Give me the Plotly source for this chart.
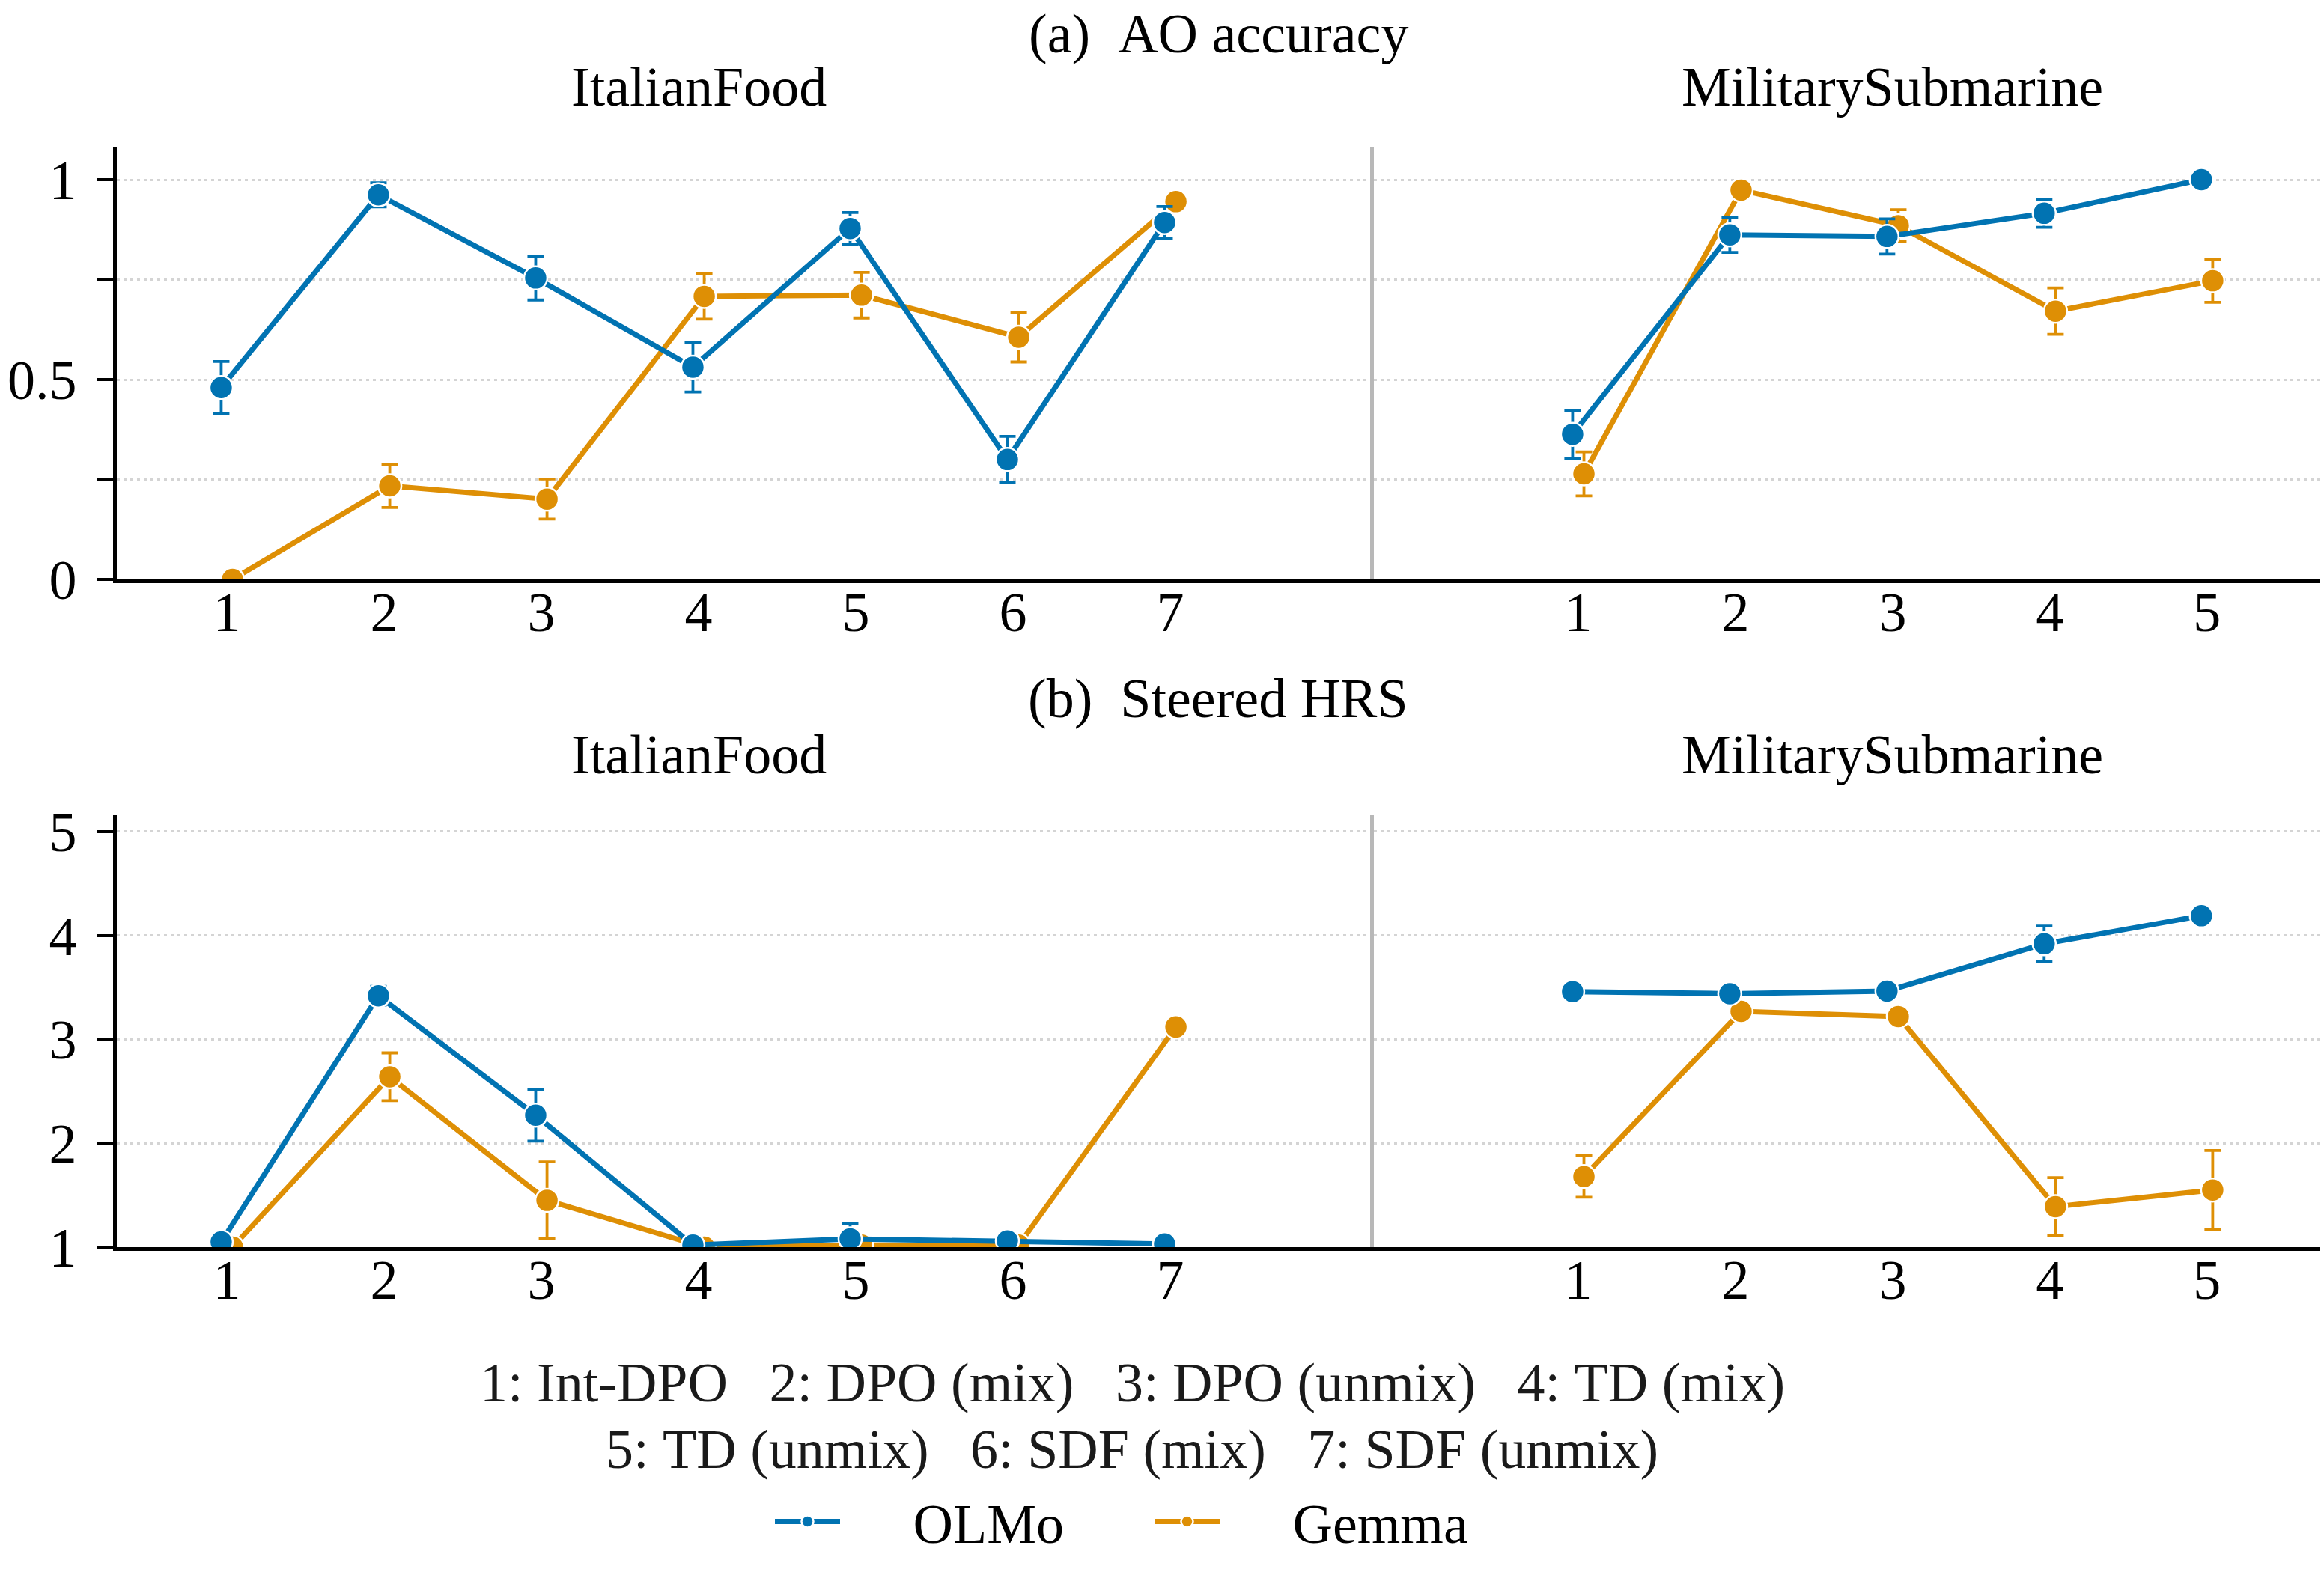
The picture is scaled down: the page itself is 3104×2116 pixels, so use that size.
import plotly.graph_objects as go

# ---------------- data ----------------
methods = ["Int-DPO", "DPO (mix)", "DPO (unmix)", "TD (mix)", "TD (unmix)", "SDF (mix)", "SDF (unmix)"]
food_x = [1, 2, 3, 4, 5, 6, 7]
sub_x = [1, 2, 3, 4, 5]
models = ["OLMo", "Gemma"]

# (a) AO accuracy
ao_food_olmo = [0.480, 0.962, 0.754, 0.531, 0.878, 0.300, 0.893]
ao_food_olmo_err = [0.065, 0.030, 0.055, 0.062, 0.040, 0.058, 0.040]
ao_food_gemma = [0.0, 0.234, 0.201, 0.708, 0.711, 0.606, 0.945]
ao_food_gemma_err = [0.0, 0.054, 0.050, 0.057, 0.057, 0.062, 0.010]
ao_sub_olmo = [0.363, 0.862, 0.858, 0.916, 1.0]
ao_sub_olmo_err = [0.060, 0.044, 0.044, 0.035, 0.0]
ao_sub_gemma = [0.264, 0.974, 0.885, 0.671, 0.747]
ao_sub_gemma_err = [0.055, 0.010, 0.040, 0.058, 0.054]

# (b) Steered HRS
hrs_food_olmo = [1.05, 3.42, 2.27, 1.02, 1.08, 1.06, 1.03]
hrs_food_olmo_err = [0.03, 0.09, 0.25, 0.02, 0.15, 0.05, 0.02]
hrs_food_gemma = [1.0, 2.64, 1.45, 1.0, 1.02, 1.02, 3.12]
hrs_food_gemma_err = [0.0, 0.23, 0.37, 0.0, 0.02, 0.02, 0.0]
hrs_sub_olmo = [3.46, 3.44, 3.465, 3.92, 4.19]
hrs_sub_olmo_err = [0.03, 0.05, 0.03, 0.17, 0.0]
hrs_sub_gemma = [1.68, 3.27, 3.22, 1.39, 1.55]
hrs_sub_gemma_err = [0.20, 0.03, 0.03, 0.28, 0.38]

ao_ticks = [0, 0.25, 0.5, 0.75, 1]
ao_ticktext = ["0", "", "0.5", "", "1"]
hrs_ticks = [1, 2, 3, 4, 5]
hrs_ticktext = ["1", "2", "3", "4", "5"]

# ---------------- style ----------------
BLUE = "#0173b2"
ORANGE = "#de8f05"
FONT = "Liberation Serif"
FS = 74
DODGE = 0.036
W, H = 3104, 2116
NB = "\u00a0"

fig = go.Figure()


def add(xs, ys, errs, name, color, xa, ya, offset, showlegend, rank):
    fig.add_trace(go.Scatter(
        x=[v + offset for v in xs], y=ys, mode="lines+markers", name=NB * 5 + name,
        line=dict(color=color, width=7),
        marker=dict(size=31, color=color, line=dict(color="white", width=2.5)),
        error_y=dict(type="data", array=errs, visible=True, color=color, thickness=3.8, width=11),
        xaxis=xa, yaxis=ya, showlegend=showlegend, legendgroup=name, legendrank=rank,
    ))


# Gemma first (below), OLMo on top
add(food_x, ao_food_gemma, ao_food_gemma_err, "Gemma", ORANGE, "x", "y", DODGE, True, 2)
add(food_x, ao_food_olmo, ao_food_olmo_err, "OLMo", BLUE, "x", "y", -DODGE, True, 1)
add(sub_x, ao_sub_gemma, ao_sub_gemma_err, "Gemma", ORANGE, "x2", "y2", DODGE, False, 2)
add(sub_x, ao_sub_olmo, ao_sub_olmo_err, "OLMo", BLUE, "x2", "y2", -DODGE, False, 1)
add(food_x, hrs_food_gemma, hrs_food_gemma_err, "Gemma", ORANGE, "x3", "y3", DODGE, False, 2)
add(food_x, hrs_food_olmo, hrs_food_olmo_err, "OLMo", BLUE, "x3", "y3", -DODGE, False, 1)
add(sub_x, hrs_sub_gemma, hrs_sub_gemma_err, "Gemma", ORANGE, "x4", "y4", DODGE, False, 2)
add(sub_x, hrs_sub_olmo, hrs_sub_olmo_err, "OLMo", BLUE, "x4", "y4", -DODGE, False, 1)


def px_x(p):
    return p / W


def px_y(p):
    return 1 - p / H


x_left_dom = [px_x(156), px_x(1835)]
x_right_dom = [px_x(1835), px_x(3099)]
top_dom = [px_y(774), px_y(196)]
bot_dom = [px_y(1666), px_y(1089)]

xcommon = dict(showgrid=False, zeroline=False, showline=True, linecolor="black", linewidth=4.5,
               ticks="", tickfont=dict(family=FONT, size=FS, color="black"), ticklabelstandoff=-25,
               automargin=False)
gridstyle = dict(showgrid=True, gridcolor="#d4d4d4", gridwidth=3, griddash="4px,5px", zeroline=False,
                 automargin=False)
ylab = dict(showline=True, linecolor="black", linewidth=4.5, ticks="outside", ticklen=21,
            tickwidth=4, tickcolor="black", ticklabelstandoff=13,
            tickfont=dict(family=FONT, size=FS, color="black"))
ydiv = dict(showticklabels=False, ticks="", showline=True, linecolor="#b8b8b8", linewidth=4.5)

fig.update_layout(
    width=W, height=H,
    margin=dict(l=0, r=0, t=0, b=0, autoexpand=False),
    paper_bgcolor="white", plot_bgcolor="white",
    font=dict(family=FONT, size=FS, color="black"),
    xaxis=dict(domain=x_left_dom, anchor="y", range=[0.30, 8.295], tickvals=food_x, **xcommon),
    xaxis2=dict(domain=x_right_dom, anchor="y2", range=[-0.30, 5.72], tickvals=sub_x, **xcommon),
    xaxis3=dict(domain=x_left_dom, anchor="y3", range=[0.30, 8.295], tickvals=food_x, **xcommon),
    xaxis4=dict(domain=x_right_dom, anchor="y4", range=[-0.30, 5.72], tickvals=sub_x, **xcommon),
    yaxis=dict(domain=top_dom, anchor="x", range=[0, 1.0824], tickvals=ao_ticks, ticktext=ao_ticktext,
               **ylab, **gridstyle),
    yaxis2=dict(domain=top_dom, anchor="x2", range=[0, 1.0824], tickvals=ao_ticks, **ydiv, **gridstyle),
    yaxis3=dict(domain=bot_dom, anchor="x3", range=[1, 5.158], tickvals=hrs_ticks, ticktext=hrs_ticktext,
                **ylab, **gridstyle),
    yaxis4=dict(domain=bot_dom, anchor="x4", range=[1, 5.158], tickvals=hrs_ticks, **ydiv, **gridstyle),
    legend=dict(orientation="h", x=px_x(1030), y=px_y(2033), xanchor="left", yanchor="middle",
                font=dict(family=FONT, size=FS, color="black"), itemwidth=87,
                entrywidth=405, entrywidthmode="pixels",
                bgcolor="rgba(0,0,0,0)"),
    showlegend=True,
)

ann = [
    dict(text="(a)" + NB * 2 + "AO accuracy", xref="paper", yref="paper", x=px_x(1627), y=px_y(45)),
    dict(text="ItalianFood", xref="x", yref="paper", x=4, y=px_y(116)),
    dict(text="MilitarySubmarine", xref="x2", yref="paper", x=3, y=px_y(116)),
    dict(text="(b)" + NB * 2 + "Steered HRS", xref="paper", yref="paper", x=px_x(1627), y=px_y(933)),
    dict(text="ItalianFood", xref="x3", yref="paper", x=4, y=px_y(1008)),
    dict(text="MilitarySubmarine", xref="x4", yref="paper", x=3, y=px_y(1008)),
]
sep = NB * 3
line1 = sep.join(f"{i}:{NB}{m}" for i, m in zip(food_x[:4], methods[:4]))
line2 = sep.join(f"{i}:{NB}{m}" for i, m in zip(food_x[4:], methods[4:]))
ann.append(dict(text=line1, xref="paper", yref="paper", x=px_x(1512), y=px_y(1847), color="#1a1a1a"))
ann.append(dict(text=line2, xref="paper", yref="paper", x=px_x(1512), y=px_y(1936), color="#1a1a1a"))

for a in ann:
    col = a.pop("color", "black")
    a.update(showarrow=False, xanchor="center", yanchor="middle",
             font=dict(family=FONT, size=FS, color=col))
    fig.add_annotation(**a)

fig.write_html("out.html", config={"displayModeBar": False},
               post_script="document.body.style.margin='0';document.body.style.overflow='hidden';")
